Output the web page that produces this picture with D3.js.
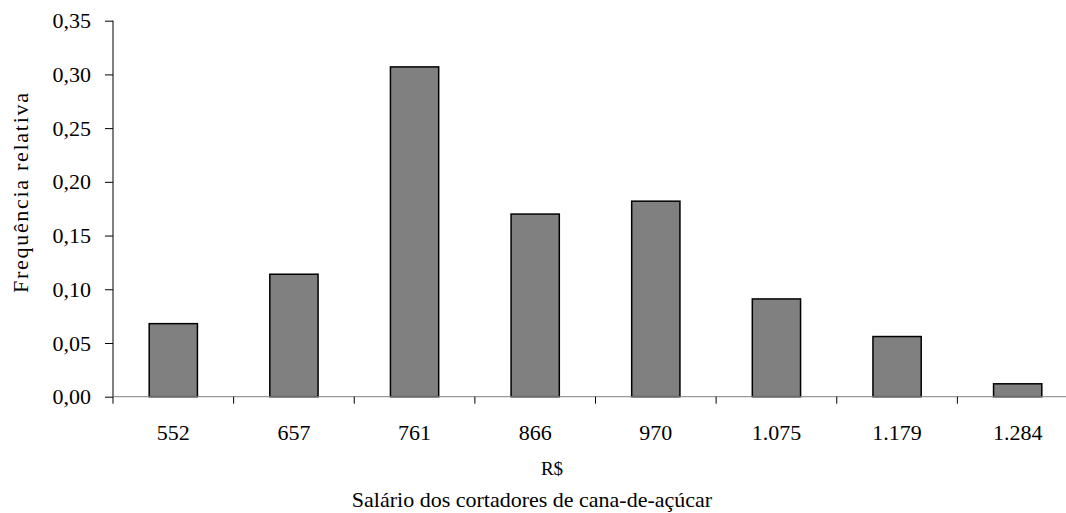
<!DOCTYPE html>
<html>
<head>
<meta charset="utf-8">
<script src="https://cdn.jsdelivr.net/npm/d3@7"></script>
<style>
  body { margin: 0; background: #fff; }
</style>
</head>
<body>
<div id="chart"></div>
<script>
// salary classes (R$) and relative frequency
const categories = ["552", "657", "761", "866", "970", "1.075", "1.179", "1.284"];
const frequencies = [0.068, 0.114, 0.307, 0.170, 0.182, 0.091, 0.056, 0.012];
const yTicks = [0, 0.05, 0.10, 0.15, 0.20, 0.25, 0.30, 0.35];

const serif = "'Liberation Serif', 'Times New Roman', 'DejaVu Serif', serif";

const margin = { top: 20.7, left: 113 },
  width = 965,
  height = 376;

const svg = d3.select("#chart")
  .append("svg")
  .attr("width", 1066)
  .attr("height", 513);

const g = svg.append("g")
  .attr("transform", `translate(${margin.left},${margin.top})`);

const fmt = d3.formatLocale({ decimal: ",", thousands: ".", grouping: [3], currency: ["R$", ""] }).format(".2f");

// X scale, one band per class
const x = d3.scaleBand()
  .domain(categories)
  .range([0, width])
  .paddingInner(0.6)
  .paddingOuter(0.3);

const y = d3.scaleLinear()
  .domain([0, 0.35])
  .range([height, 0]);

// bars
g.selectAll("rect.bar")
  .data(categories)
  .join("rect")
  .attr("class", "bar")
  .attr("x", (d) => x(d))
  .attr("width", x.bandwidth())
  .attr("y", (d, i) => y(frequencies[i]))
  .attr("height", (d, i) => height - y(frequencies[i]))
  .attr("fill", "#808080")
  .attr("stroke", "#000")
  .attr("stroke-width", 1.5);

// Y axis
const yAxis = g.append("g")
  .call(d3.axisLeft(y).tickValues(yTicks).tickFormat(fmt).tickSize(8).tickPadding(14));
yAxis.select(".domain").attr("stroke", "#000").attr("d", `M0,0V${height}`);
yAxis.selectAll(".tick line").attr("stroke", "#000");
yAxis.selectAll("text").style("font-family", serif).style("font-size", "22px");

// X axis: labels at the centre of each class, ticks on the class boundaries
const xAxis = g.append("g")
  .attr("transform", `translate(0,${height})`)
  .call(d3.axisBottom(x).tickSize(0).tickPadding(28));
xAxis.select(".domain").attr("stroke", "#808080").attr("d", `M0,0H${width}`);
xAxis.selectAll("text").style("font-family", serif).style("font-size", "22px");

const bounds = d3.range(categories.length + 1).map((i) => i * x.step());
xAxis.selectAll("line.bound")
  .data(bounds)
  .join("line")
  .attr("class", "bound")
  .attr("x1", (d) => d)
  .attr("x2", (d) => d)
  .attr("y1", 0)
  .attr("y2", 7)
  .attr("stroke", "#000");

// unit and axis titles
svg.append("text")
  .attr("x", 552)
  .attr("y", 475)
  .attr("text-anchor", "middle")
  .style("font-family", serif)
  .style("font-size", "19px")
  .text("R$");

svg.append("text")
  .attr("x", 532)
  .attr("y", 507)
  .attr("text-anchor", "middle")
  .style("font-family", serif)
  .style("font-size", "22px")
  .text("Salário dos cortadores de cana-de-açúcar");

svg.append("text")
  .attr("transform", "translate(28,193) rotate(-90)")
  .attr("text-anchor", "middle")
  .attr("textLength", 200)
  .style("font-family", serif)
  .style("font-size", "22px")
  .text("Frequência relativa");
</script>
</body>
</html>
